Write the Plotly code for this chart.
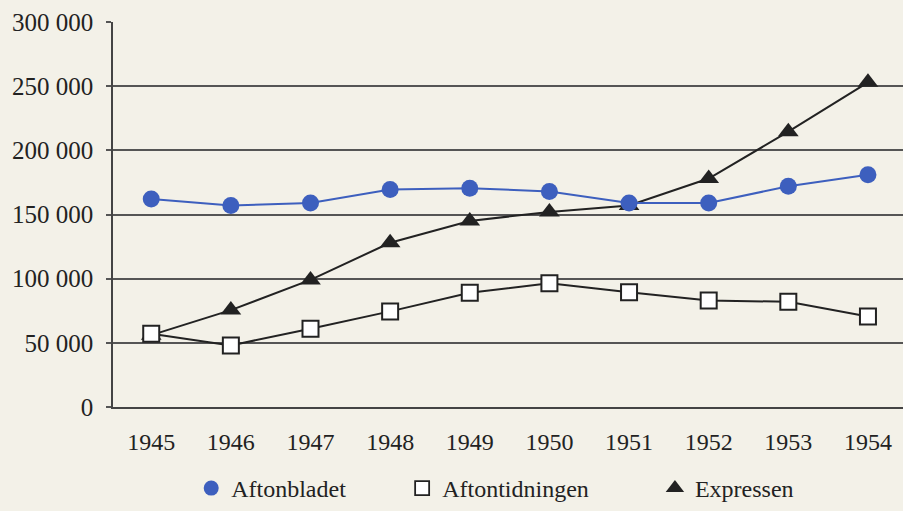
import plotly.graph_objects as go

years = [1945, 1946, 1947, 1948, 1949, 1950, 1951, 1952, 1953, 1954]
aftonbladet = [162000, 157000, 159000, 169500, 170500, 168000, 159000, 159000, 172000, 181000]
aftontidningen = [57000, 48000, 61000, 74500, 89000, 96500, 89500, 83000, 82000, 70500]
expressen = [56000, 75500, 99000, 128000, 145000, 152000, 157000, 178000, 214500, 253000]
ytick_vals = [0, 50000, 100000, 150000, 200000, 250000, 300000]
ytick_text = ["0", "50 000", "100 000", "150 000", "200 000", "250 000", "300 000"]

FONT = "Liberation Serif"
BLUE = "#3d5fbe"
DARK = "#222222"
BG = "#f3f1e8"

fig = go.Figure()

fig.add_trace(go.Scatter(x=years, y=expressen, mode="lines+markers", showlegend=False,
                         line=dict(color=DARK, width=2),
                         marker=dict(symbol="triangle-up", size=18, color=DARK,
                                     line=dict(color=DARK, width=0))))
fig.add_trace(go.Scatter(x=years, y=aftontidningen, mode="lines+markers", showlegend=False,
                         line=dict(color=DARK, width=2),
                         marker=dict(symbol="square", size=16, color="white",
                                     line=dict(color=DARK, width=2))))
fig.add_trace(go.Scatter(x=years, y=aftonbladet, mode="lines+markers", showlegend=False,
                         line=dict(color=BLUE, width=2),
                         marker=dict(symbol="circle", size=17, color=BLUE,
                                     line=dict(width=0))))

# legend-only entries
fig.add_trace(go.Scatter(x=[None], y=[None], mode="markers", name="Aftonbladet", legend="legend",
                         marker=dict(symbol="circle", size=15, color=BLUE, line=dict(width=0))))
fig.add_trace(go.Scatter(x=[None], y=[None], mode="markers", name="Aftontidningen", legend="legend2",
                         marker=dict(symbol="square", size=14, color="white",
                                     line=dict(color=DARK, width=1.8))))
fig.add_trace(go.Scatter(x=[None], y=[None], mode="markers", name="Expressen", legend="legend3",
                         marker=dict(symbol="triangle-up", size=16, color=DARK, line=dict(width=0))))

legend_common = dict(orientation="h", yanchor="middle", y=-0.212, xanchor="left",
                     bgcolor="rgba(0,0,0,0)", font=dict(family=FONT, size=24, color=DARK))

fig.update_layout(
    width=903, height=511,
    margin=dict(l=113, r=0, t=22, b=103),
    paper_bgcolor=BG, plot_bgcolor=BG,
    font=dict(family=FONT, size=24, color=DARK),
    legend=dict(x=0.099, **legend_common),
    legend2=dict(x=0.366, **legend_common),
    legend3=dict(x=0.686, **legend_common),
    xaxis=dict(range=[1944.52, 1954.44], tickmode="array", tickvals=years,
               ticktext=[str(y) for y in years], showgrid=False, zeroline=False,
               showline=True, linecolor="#444", linewidth=1.5, ticks="",
               ticklabelstandoff=12, tickfont=dict(family=FONT, size=24, color=DARK)),
    yaxis=dict(range=[0, 300000], tickmode="array", tickvals=ytick_vals, ticktext=ytick_text,
               showgrid=True, gridcolor="#555", gridwidth=1.5, zeroline=False,
               showline=True, linecolor="#444", linewidth=1.5,
               ticks="outside", ticklen=5, tickcolor="#555", tickwidth=1.5,
               ticklabelstandoff=8, tickfont=dict(family=FONT, size=25, color=DARK)),
)

fig.write_html("out.html", config={"displayModeBar": False},
               post_script="document.body.style.margin='0';document.body.style.padding='0';")
